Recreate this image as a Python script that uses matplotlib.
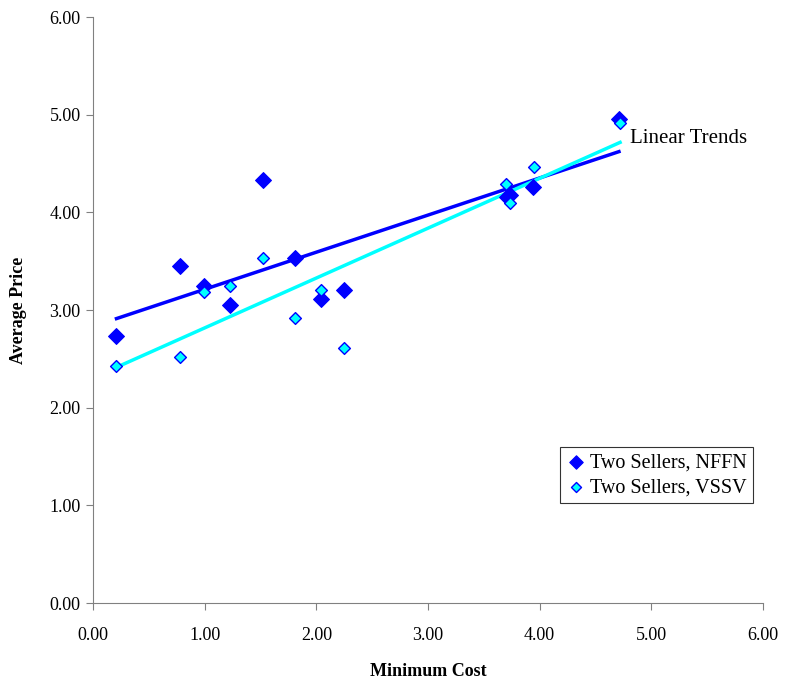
import numpy as np
import matplotlib
matplotlib.use('Agg')
import matplotlib.pyplot as plt

plt.rcParams['font.family'] = ['Liberation Serif', 'DejaVu Serif']

# Two Sellers, NFFN
aCost_nffn = [0.21, 0.78, 0.99, 1.23, 1.52, 1.81, 2.04, 2.25, 3.71, 3.73, 3.94, 4.71]
aPrice_nffn = [2.74, 3.45, 3.25, 3.05, 4.33, 3.53, 3.11, 3.21, 4.16, 4.18, 4.26, 4.96]
# Two Sellers, VSSV
aCost_vssv = [0.21, 0.78, 0.99, 1.23, 1.52, 1.81, 2.04, 2.25, 3.70, 3.73, 3.95, 4.72]
aPrice_vssv = [2.43, 2.52, 3.19, 3.25, 3.53, 2.92, 3.21, 2.61, 4.29, 4.10, 4.47, 4.92]

aTicks = [0, 1, 2, 3, 4, 5, 6]

fig = plt.figure(figsize=(7.85, 6.88), dpi=100)
ax = fig.add_axes([0.1185, 0.1235, 0.8535, 0.8515])

ax.scatter(aCost_nffn, aPrice_nffn, marker='D', s=65, color='#0000FF',
           edgecolors='#0000FF', linewidths=0.8, zorder=3, label='Two Sellers, NFFN')
ax.scatter(aCost_vssv, aPrice_vssv, marker='D', s=36, color='#00FFFF',
           edgecolors='#0000FF', linewidths=1.0, zorder=4, label='Two Sellers, VSSV')

# linear trends
for aX, aY, sColor in [(aCost_nffn, aPrice_nffn, '#0000FF'),
                       (aCost_vssv, aPrice_vssv, '#00FFFF')]:
    aX = np.array(aX)
    p = np.polyfit(aX, np.array(aY), 1)
    xx = np.array([aX.min(), aX.max()])
    ax.plot(xx, np.polyval(p, xx), color=sColor, lw=2.5, zorder=2)

ax.text(4.81, 4.76, 'Linear Trends', fontsize=15, va='center', ha='left')

ax.set_xlim(0, 6)
ax.set_ylim(0, 6)
ax.set_xticks(aTicks)
ax.set_yticks(aTicks)
ax.set_xticklabels(['%.2f' % t for t in aTicks], fontsize=13)
ax.set_yticklabels(['%.2f' % t for t in aTicks], fontsize=13)
ax.tick_params(direction='out', length=5, color='#808080')
ax.tick_params(axis='x', pad=12)
ax.tick_params(axis='y', pad=4)
ax.spines['top'].set_visible(False)
ax.spines['right'].set_visible(False)
ax.spines['left'].set_color('#808080')
ax.spines['bottom'].set_color('#808080')

ax.set_xlabel('Minimum Cost', fontsize=13, fontweight='bold', labelpad=14)
ax.set_ylabel('Average Price', fontsize=13, fontweight='bold', labelpad=16)

leg = ax.legend(loc='lower right', bbox_to_anchor=(0.985, 0.17), fontsize=14.5,
                frameon=True, fancybox=False, handletextpad=0.2, markerscale=0.85,
                borderpad=0.3, labelspacing=0.3, handlelength=1.0, borderaxespad=0)
leg.get_frame().set_edgecolor('black')
leg.get_frame().set_linewidth(0.8)

fig.savefig('out.png', dpi=100)
plt.close(fig)
